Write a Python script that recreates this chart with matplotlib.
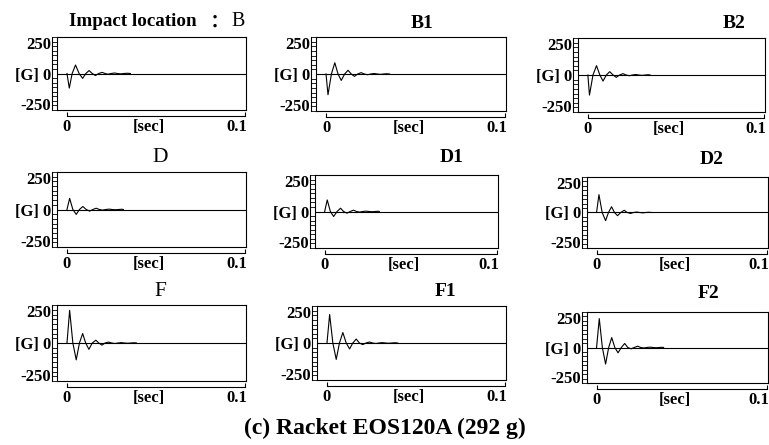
import matplotlib
matplotlib.use("Agg")
import matplotlib.pyplot as plt
import matplotlib.transforms as mtransforms
import numpy as np

# Acceleration traces: time in ms, value in G
B_t = [0, 1.3, 2.9, 4.8, 6.8, 8.8, 10.6, 12.4, 14.2, 16.0, 17.8, 19.7, 21.4, 23.0, 24.8, 26.6, 28.4, 30.2, 32.0, 33.8, 35.6]
B_g = [0, -120, 0, 70, 0, -40, 0, 24, 0, -17, 0, 9, 0, -6, 0, 4, 0, -3, 0, 2, 0]
B1_t = [0, 1.1, 3.0, 4.9, 6.7, 8.5, 10.4, 12.3, 14.1, 15.9, 17.7, 19.6, 21.4, 23.2, 25.0, 26.8, 28.6, 30.4, 32.2, 34.0, 35.5]
B1_g = [0, -168, 0, 91, 0, -52, 0, 30, 0, -19, 0, 11, 0, -6, 0, 4, 0, -3, 0, 2, 0]
B2_t = [0, 0.9, 2.9, 4.9, 6.8, 8.6, 10.5, 12.4, 14.3, 16.1, 18.0, 19.9, 21.7, 23.5, 25.3, 27.1, 28.9, 30.7, 32.5, 34.3, 35.3]
B2_g = [0, -163, 0, 76, 0, -49, 0, 27, 0, -19, 0, 11, 0, -6, 0, 4, 0, -3, 0, 2, 0]

D_t = [0, 1.5, 3.3, 5.2, 7.0, 8.9, 10.8, 12.7, 14.5, 16.4, 18.2, 20.0, 21.8, 23.6, 25.4, 27.2, 29.0, 30.8, 31.7]
D_g = [0, 89, 0, -39, 0, 24, 0, -13, 0, 10, 0, -5, 0, 3, 0, -2, 0, 2, 0]
D1_t = [0, 1.5, 3.3, 5.2, 7.2, 9.2, 11.0, 12.9, 14.8, 16.7, 18.5, 20.3, 22.1, 23.9, 25.7, 27.5, 29.3, 31.1, 31.7]
D1_g = [0, 95, 0, -41, 0, 27, 0, -14, 0, 11, 0, -5, 0, 3, 0, -2, 0, 2, 0]
D2_t = [0, 1.4, 3.3, 5.3, 7.0, 8.8, 10.5, 12.3, 14.2, 16.2, 18.0, 19.9, 21.7, 23.5, 25.3, 27.1, 28.9, 30.7, 32.2]
D2_g = [0, 151, 0, -69, 0, 49, 0, -27, 0, 19, 0, -8, 0, 4, 0, -3, 0, 2, 0]

F_t = [0, 1.5, 3.3, 5.2, 7.0, 8.8, 10.5, 12.3, 14.2, 16.2, 17.9, 19.6, 21.4, 23.3, 25.1, 26.9, 28.7, 30.5, 32.3, 34.1, 35.9, 37.7, 39.0]
F_g = [0, 258, 0, -133, 0, 75, 0, -50, 0, 22, 0, -17, 0, 7, 0, -4, 0, 3, 0, -2, 0, 2, 0]
F1_t = [0, 1.5, 3.3, 5.2, 7.0, 8.9, 10.8, 12.7, 14.5, 16.4, 18.2, 20.1, 21.9, 23.8, 25.6, 27.4, 29.2, 31.0, 32.8, 34.6, 36.4, 38.2, 39.7]
F1_g = [0, 231, 0, -133, 0, 85, 0, -48, 0, 32, 0, -13, 0, 8, 0, -4, 0, 3, 0, -2, 0, 2, 0]
F2_t = [0, 1.6, 3.4, 5.3, 7.1, 8.9, 10.7, 12.6, 14.5, 16.5, 18.3, 20.2, 22.1, 24.1, 25.9, 27.7, 29.5, 31.3, 33.1, 34.9, 36.7, 38.5, 39.3]
F2_g = [0, 244, 0, -140, 0, 84, 0, -45, 0, 34, 0, -11, 0, 11, 0, -4, 0, 3, 0, -2, 0, 2, 0]

names = ["B", "B1", "B2", "D", "D1", "D2", "F", "F1", "F2"]
times = [B_t, B1_t, B2_t, D_t, D1_t, D2_t, F_t, F1_t, F2_t]
values = [B_g, B1_g, B2_g, D_g, D1_g, D2_g, F_g, F1_g, F2_g]

y_labels = ["-250", "[G] 0", "250"]
caption = "(c) Racket EOS120A (292 g)"

W, H = 769, 445
# box edges in pixels: left, right, top, bottom
boxes = [(57, 246, 37, 110), (316, 506, 37, 111), (578, 765, 38, 112),
         (57, 246, 172, 247), (315, 498, 175, 248), (587, 768, 177, 248),
         (57, 246, 305, 381), (317, 506, 306, 380), (587, 768, 312, 383)]
# title centres in pixels
title_xy = [(133, 22), (422, 23), (734, 23),
            (160, 158), (452, 158), (712, 160),
            (160, 292), (445, 292), (709, 293)]

serif = ["Liberation Serif", "DejaVu Serif"]
fig = plt.figure(figsize=(W / 100, H / 100), dpi=100)
px = 0.72  # points per pixel at dpi 100

for i in range(9):
    l, r, t, b = boxes[i]
    ax = fig.add_axes([l / W, 1 - b / H, (r - l) / W, (b - t) / H])
    ax.plot(np.array(times[i]) / 1000, values[i], color="black", lw=0.8)
    ax.axhline(0, color="black", lw=0.8)
    ax.set_xlim(-0.0056, 0.1005)
    ax.set_ylim(-300, 300)

    for s in ["left", "right", "top"]:
        ax.spines[s].set_linewidth(0.8)
    ax.spines["bottom"].set_position(("outward", 6 * px))
    ax.spines["bottom"].set_bounds(0, 0.1)
    ax.spines["bottom"].set_linewidth(0.8)
    # bottom edge of the box
    ax.plot([0, 1], [0, 0], transform=ax.transAxes, color="black", lw=0.8, clip_on=False)
    # ruler line to the left of the box
    trans = ax.transAxes + mtransforms.ScaledTranslation(-5 / 100, 0, fig.dpi_scale_trans)
    ax.plot([0, 0], [0, 1], transform=trans, color="black", lw=0.8, clip_on=False)

    ax.set_yticks([-250, 0, 250])
    ax.set_yticklabels(y_labels, fontfamily=serif, fontweight="bold", fontsize=12)
    ax.set_yticks(np.linspace(-300, 300, 17), minor=True)
    ax.tick_params(axis="y", which="major", length=0, pad=6 * px)
    ax.tick_params(axis="y", which="minor", length=5 * px, width=0.6, direction="out")
    ax.tick_params(axis="y", which="both", right=False)

    ax.set_xticks([0, 0.046, 0.1])
    ax.set_xticklabels(["0", "[sec]", "0.1"], fontfamily=serif, fontweight="bold", fontsize=12)
    ax.get_xticklabels()[2].set_ha("right")
    ax.get_xticklabels()[2].set_x(0.1)
    ax.tick_params(axis="x", direction="in", length=4 * px, width=0.8, pad=3 * px, top=False)
    ax.xaxis.get_major_ticks()[1].tick1line.set_visible(False)
    # shift the right label so it ends at the tick
    ax.get_xticklabels()[2].set_transform(ax.get_xticklabels()[2].get_transform()
                                          + mtransforms.ScaledTranslation(0.02, 0, fig.dpi_scale_trans))

    tx, ty = title_xy[i]
    if i == 0:
        fig.text(197 / W, 1 - ty / H, "Impact location", ha="right", va="center",
                 fontfamily=serif, fontweight="bold", fontsize=13.7)
        fig.text(215 / W, 1 - ty / H, "：", ha="center", va="center",
                 fontfamily=["Noto Sans CJK JP"], fontweight="bold", fontsize=13)
        fig.text(238 / W, 1 - ty / H, "B", ha="center", va="center",
                 fontfamily=serif, fontsize=14.5)
    elif len(names[i]) == 1:
        fig.text(tx / W, 1 - ty / H, names[i], ha="center", va="center",
                 fontfamily=serif, fontsize=15.5)
    else:
        fig.text(tx / W, 1 - ty / H, names[i], ha="center", va="center",
                 fontfamily=serif, fontweight="bold", fontsize=14)

fig.text(385 / W, 1 - 428 / H, caption, ha="center", va="center",
         fontfamily=serif, fontweight="bold", fontsize=17)

fig.savefig("out.png", dpi=100)
